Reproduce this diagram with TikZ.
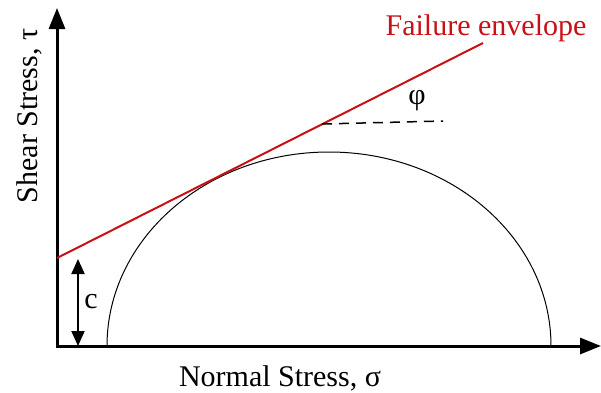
\documentclass[tikz,border=0pt]{standalone}
\usepackage{fontspec}
\setmainfont{Liberation Serif}
\newfontfamily\lblfont{Liberation Serif}
\usetikzlibrary{arrows.meta}
\definecolor{envred}{RGB}{200,16,22}
\tikzset{
  axis/.style={line width=3pt, line join=miter, {Triangle[length=21pt,width=16pt]}-{Triangle[length=21pt,width=16pt]}},
  envelope/.style={envred, line width=2pt},
  mohr/.style={line width=1pt},
  anglemark/.style={line width=1.5pt, dash pattern=on 10pt off 7pt},
  cohesion/.style={line width=2pt, {Triangle[length=15pt,width=13pt]}-{Triangle[length=15pt,width=13pt]}},
  lbl/.style={font=\lblfont\fontsize{30}{36}\selectfont, inner sep=0pt}
}
\begin{document}
\begin{tikzpicture}[x=1pt,y=-1pt]
\useasboundingbox (0,0) rectangle (601,392);
\coordinate (ytip) at (57,8);
\coordinate (O) at (57,346);
\coordinate (xtip) at (601,346);
\coordinate (cR) at (551,346);
\coordinate (e0) at (57,258);
\coordinate (e1) at (483,43);
\coordinate (d0) at (322,124);
\coordinate (d1) at (443,121);
\coordinate (c0) at (78,346);
\coordinate (c1) at (78,259);
% Mohr circle
\draw[mohr] (cR) arc[start angle=0, end angle=180, x radius=222pt, y radius=194pt];
% axes
\draw[axis] (ytip) -- (O) -- (xtip);
% failure envelope
\draw[envelope] (e0) -- (e1);
% friction angle reference
\draw[anglemark] (d0) -- (d1);
% cohesion
\draw[cohesion] (c0) -- (c1);
% labels
\node[lbl, envred, anchor=base] (tenv) at (486,35) {Failure envelope};
\node[lbl] (tphi) at (417,101) {φ};
\node[lbl] (tc) at (91,302) {c};
\node[lbl, anchor=base] (tx) at (280,386) {Normal Stress, σ};
\node[lbl, anchor=base, rotate=90] (ty) at (37,116) {Shear Stress, τ};
\end{tikzpicture}
\end{document}
